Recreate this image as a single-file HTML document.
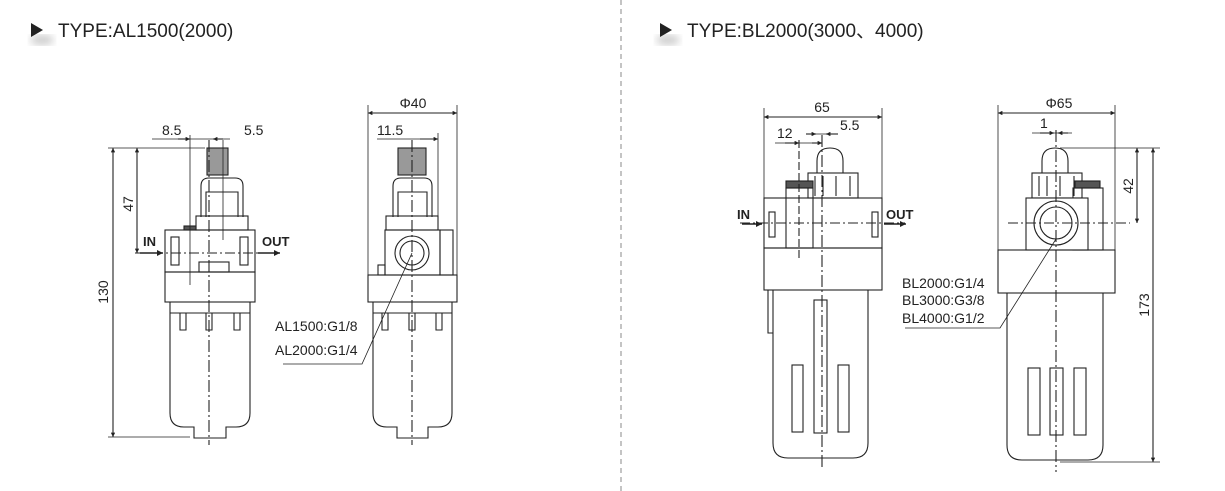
<!DOCTYPE html>
<html><head><meta charset="utf-8"><style>
html,body{margin:0;padding:0;background:#fff;}
svg{display:block;}
text{font-family:"Liberation Sans","Noto Sans CJK SC",sans-serif;fill:#222;}
</style></head><body>
<svg width="1225" height="491" viewBox="0 0 1225 491" xmlns="http://www.w3.org/2000/svg">
<defs>
<marker id="a" viewBox="0 0 10 10" refX="10" refY="5" markerWidth="6" markerHeight="4" orient="auto-start-reverse"><path d="M0,0L10,5L0,10z" fill="#222"/></marker>
<filter id="sh"><feGaussianBlur stdDeviation="4"/></filter>
</defs>
<ellipse cx="42" cy="40" rx="12" ry="5" fill="#ccc" filter="url(#sh)"/>
<ellipse cx="668" cy="40" rx="12" ry="5" fill="#ccc" filter="url(#sh)"/>
<path d="M31,23L43,30L31,37z" fill="#222"/>
<text x="58" y="37" font-size="19">TYPE:AL1500(2000)</text>
<path d="M660,23L672,30L660,37z" fill="#222"/>
<text x="687" y="37" font-size="19">TYPE:BL2000(3000、4000)</text>
<line x1="621" y1="0" x2="621" y2="491" stroke="#888" stroke-dasharray="5,4"/>

<g stroke="#222" stroke-width="1.1" fill="none">
<rect x="207" y="148" width="21" height="27" fill="#999"/>
<path d="M201,217 V186 Q201,178 209,178 H235 Q243,178 243,186 V217"/>
<path d="M206,217 V192 H238 V217"/>
<rect x="196" y="216" width="52" height="14"/>
<rect x="165" y="230" width="90" height="42"/>
<rect x="171" y="237" width="8" height="28"/>
<rect x="240" y="237" width="8" height="28"/>
<rect x="199" y="262" width="30" height="10"/>
<rect x="184" y="226" width="12" height="4" fill="#555"/>
<rect x="165" y="272" width="90" height="30"/>
<path d="M170,302 V413 Q170,427 184,427 H194 V438 H226 V427 H236 Q250,427 250,413 V302"/>
<path d="M170,313 H250"/>
<path d="M180,313 V330 H186 V313 M206,313 V330 H212 V313 M234,313 V330 H240 V313"/>
<line x1="209" y1="140" x2="209" y2="445" stroke-dasharray="12,3,2,3"/>
<line x1="223" y1="140" x2="223" y2="240" stroke-width="0.8"/>
<line x1="190" y1="135" x2="190" y2="285" stroke-width="0.8"/>
<line x1="135" y1="253" x2="280" y2="253" stroke-dasharray="10,3,2,3"/>
<line x1="113" y1="148" x2="113" y2="437" marker-start="url(#a)" marker-end="url(#a)"/>
<line x1="108" y1="148" x2="205" y2="148" stroke-width="0.8"/>
<line x1="108" y1="437" x2="190" y2="437" stroke-width="0.8"/>
<line x1="137" y1="148" x2="137" y2="253" marker-start="url(#a)" marker-end="url(#a)"/>
<line x1="152" y1="139" x2="230" y2="139" stroke-width="0.8"/>
<line x1="178" y1="139" x2="190" y2="139" marker-end="url(#a)"/>
<line x1="223" y1="139" x2="213" y2="139" marker-end="url(#a)"/>
<line x1="140" y1="253" x2="163" y2="253" marker-end="url(#a)" stroke-width="1.5"/>
<line x1="258" y1="253" x2="280" y2="253" marker-end="url(#a)" stroke-width="1.5"/>

<rect x="398" y="148" width="28" height="27" fill="#999"/>
<path d="M393,217 V186 Q393,178 401,178 H424 Q432,178 432,186 V217"/>
<path d="M398,217 V192 H427 V217"/>
<rect x="386" y="216" width="52" height="14"/>
<rect x="385" y="230" width="55" height="45"/>
<rect x="440" y="230" width="13" height="45"/>
<circle cx="412" cy="253" r="17"/>
<circle cx="412" cy="253" r="12"/>
<rect x="378" y="265" width="7" height="10"/>
<rect x="368" y="275" width="89" height="27"/>
<path d="M373,302 V413 Q373,427 387,427 H397 V438 H428 V427 H438 Q452,427 452,413 V302"/>
<path d="M373,313 H452"/>
<path d="M382,313 V330 H388 V313 M409,313 V330 H415 V313 M436,313 V330 H442 V313"/>
<line x1="412" y1="140" x2="412" y2="445" stroke-dasharray="12,3,2,3"/>
<line x1="368" y1="105" x2="368" y2="275" stroke-width="0.8"/>
<line x1="457" y1="105" x2="457" y2="275" stroke-width="0.8"/>
<line x1="368" y1="113" x2="457" y2="113" marker-start="url(#a)" marker-end="url(#a)"/>
<line x1="438" y1="133" x2="438" y2="216" stroke-width="0.8"/>
<line x1="377" y1="139" x2="438" y2="139" stroke-width="0.8"/>
<line x1="420" y1="139" x2="438" y2="139" marker-end="url(#a)"/>
<path d="M412,253 L362,364 H283" stroke-width="0.8"/>

<path d="M817,173 V161 Q817,148 830,148 Q843,148 843,161 V173"/>
<rect x="808" y="173" width="50" height="25"/>
<path d="M815,176 V196 M823,176 V196 M836,176 V196 M850,176 V196"/>
<rect x="786" y="181" width="27" height="7" fill="#555"/>
<rect x="764" y="198" width="118" height="50"/>
<rect x="786" y="188" width="27" height="60"/>
<rect x="769" y="212" width="6" height="25"/>
<rect x="872" y="212" width="6" height="25"/>
<rect x="764" y="248" width="118" height="42"/>
<path d="M768,290 V333 H773"/>
<path d="M773,290 V443 Q773,458 788,458 H853 Q868,458 868,443 V290"/>
<rect x="792" y="365" width="11" height="67"/>
<rect x="814" y="300" width="13" height="133"/>
<rect x="838" y="365" width="11" height="67"/>
<line x1="822" y1="135" x2="822" y2="470" stroke-dasharray="12,3,2,3"/>
<line x1="799" y1="140" x2="799" y2="258" stroke-dasharray="8,3"/>
<line x1="740" y1="223" x2="905" y2="223" stroke-dasharray="10,3,2,3"/>
<line x1="764" y1="108" x2="764" y2="198" stroke-width="0.8"/>
<line x1="882" y1="108" x2="882" y2="248" stroke-width="0.8"/>
<line x1="764" y1="117" x2="882" y2="117" marker-start="url(#a)" marker-end="url(#a)"/>
<line x1="775" y1="143" x2="822" y2="143" stroke-width="0.8"/>
<line x1="785" y1="143" x2="799" y2="143" marker-end="url(#a)"/>
<line x1="812" y1="143" x2="822" y2="143" marker-end="url(#a)"/>
<line x1="806" y1="134" x2="838" y2="134" stroke-width="0.8"/>
<line x1="806" y1="134" x2="816" y2="134" marker-end="url(#a)"/>
<line x1="838" y1="134" x2="826" y2="134" marker-end="url(#a)"/>
<line x1="742" y1="224" x2="762" y2="224" marker-end="url(#a)" stroke-width="1.5"/>
<line x1="884" y1="224" x2="906" y2="224" marker-end="url(#a)" stroke-width="1.5"/>

<path d="M1042,173 V161 Q1042,148 1055,148 Q1068,148 1068,161 V173"/>
<rect x="1032" y="173" width="50" height="25"/>
<path d="M1039,176 V196 M1047,176 V196 M1060,176 V196 M1074,176 V196"/>
<rect x="1075" y="181" width="25" height="7" fill="#555"/>
<rect x="1073" y="188" width="30" height="62"/>
<rect x="1026" y="198" width="62" height="52" fill="#fff"/>
<circle cx="1056" cy="223" r="22"/>
<circle cx="1056" cy="223" r="16"/>
<rect x="998" y="250" width="117" height="43"/>
<path d="M1007,293 V445 Q1007,460 1022,460 H1088 Q1103,460 1103,445 V293"/>
<rect x="1028" y="368" width="12" height="67"/>
<rect x="1050" y="368" width="13" height="67"/>
<rect x="1074" y="368" width="12" height="67"/>
<line x1="1056" y1="130" x2="1056" y2="472" stroke-dasharray="12,3,2,3"/>
<line x1="1008" y1="223" x2="1130" y2="223" stroke-dasharray="10,3,2,3"/>
<line x1="998" y1="105" x2="998" y2="250" stroke-width="0.8"/>
<line x1="1115" y1="105" x2="1115" y2="250" stroke-width="0.8"/>
<line x1="998" y1="113" x2="1115" y2="113" marker-start="url(#a)" marker-end="url(#a)"/>
<line x1="1032" y1="133" x2="1072" y2="133" stroke-width="0.8"/>
<line x1="1040" y1="133" x2="1054" y2="133" marker-end="url(#a)"/>
<line x1="1068" y1="133" x2="1058" y2="133" marker-end="url(#a)"/>
<line x1="1060" y1="148" x2="1160" y2="148" stroke-width="0.8"/>
<line x1="1060" y1="462" x2="1160" y2="462" stroke-width="0.8"/>
<line x1="1137" y1="148" x2="1137" y2="223" marker-start="url(#a)" marker-end="url(#a)"/>
<line x1="1153" y1="148" x2="1153" y2="462" marker-start="url(#a)" marker-end="url(#a)"/>
<path d="M1056,239 L1000,328 H905" stroke-width="0.8"/>
</g>

<g font-size="14">
<text x="162" y="135">8.5</text>
<text x="244" y="135">5.5</text>
<text x="133" y="204" transform="rotate(-90 133 204)" text-anchor="middle">47</text>
<text x="108" y="292" transform="rotate(-90 108 292)" text-anchor="middle">130</text>
<text x="143" y="246" font-weight="bold" font-size="13">IN</text>
<text x="262" y="246" font-weight="bold" font-size="13">OUT</text>
<text x="413" y="108" text-anchor="middle">Φ40</text>
<text x="377" y="135">11.5</text>
<text x="275" y="331">AL1500:G1/8</text>
<text x="275" y="355">AL2000:G1/4</text>
<text x="822" y="112" text-anchor="middle">65</text>
<text x="777" y="138">12</text>
<text x="840" y="130">5.5</text>
<text x="737" y="219" font-weight="bold" font-size="13">IN</text>
<text x="886" y="219" font-weight="bold" font-size="13">OUT</text>
<text x="1059" y="108" text-anchor="middle">Φ65</text>
<text x="1040" y="128">1</text>
<text x="1133" y="186" transform="rotate(-90 1133 186)" text-anchor="middle">42</text>
<text x="1149" y="305" transform="rotate(-90 1149 305)" text-anchor="middle">173</text>
<text x="902" y="288">BL2000:G1/4</text>
<text x="902" y="305">BL3000:G3/8</text>
<text x="902" y="323">BL4000:G1/2</text>
</g>
</svg>
</body></html>
